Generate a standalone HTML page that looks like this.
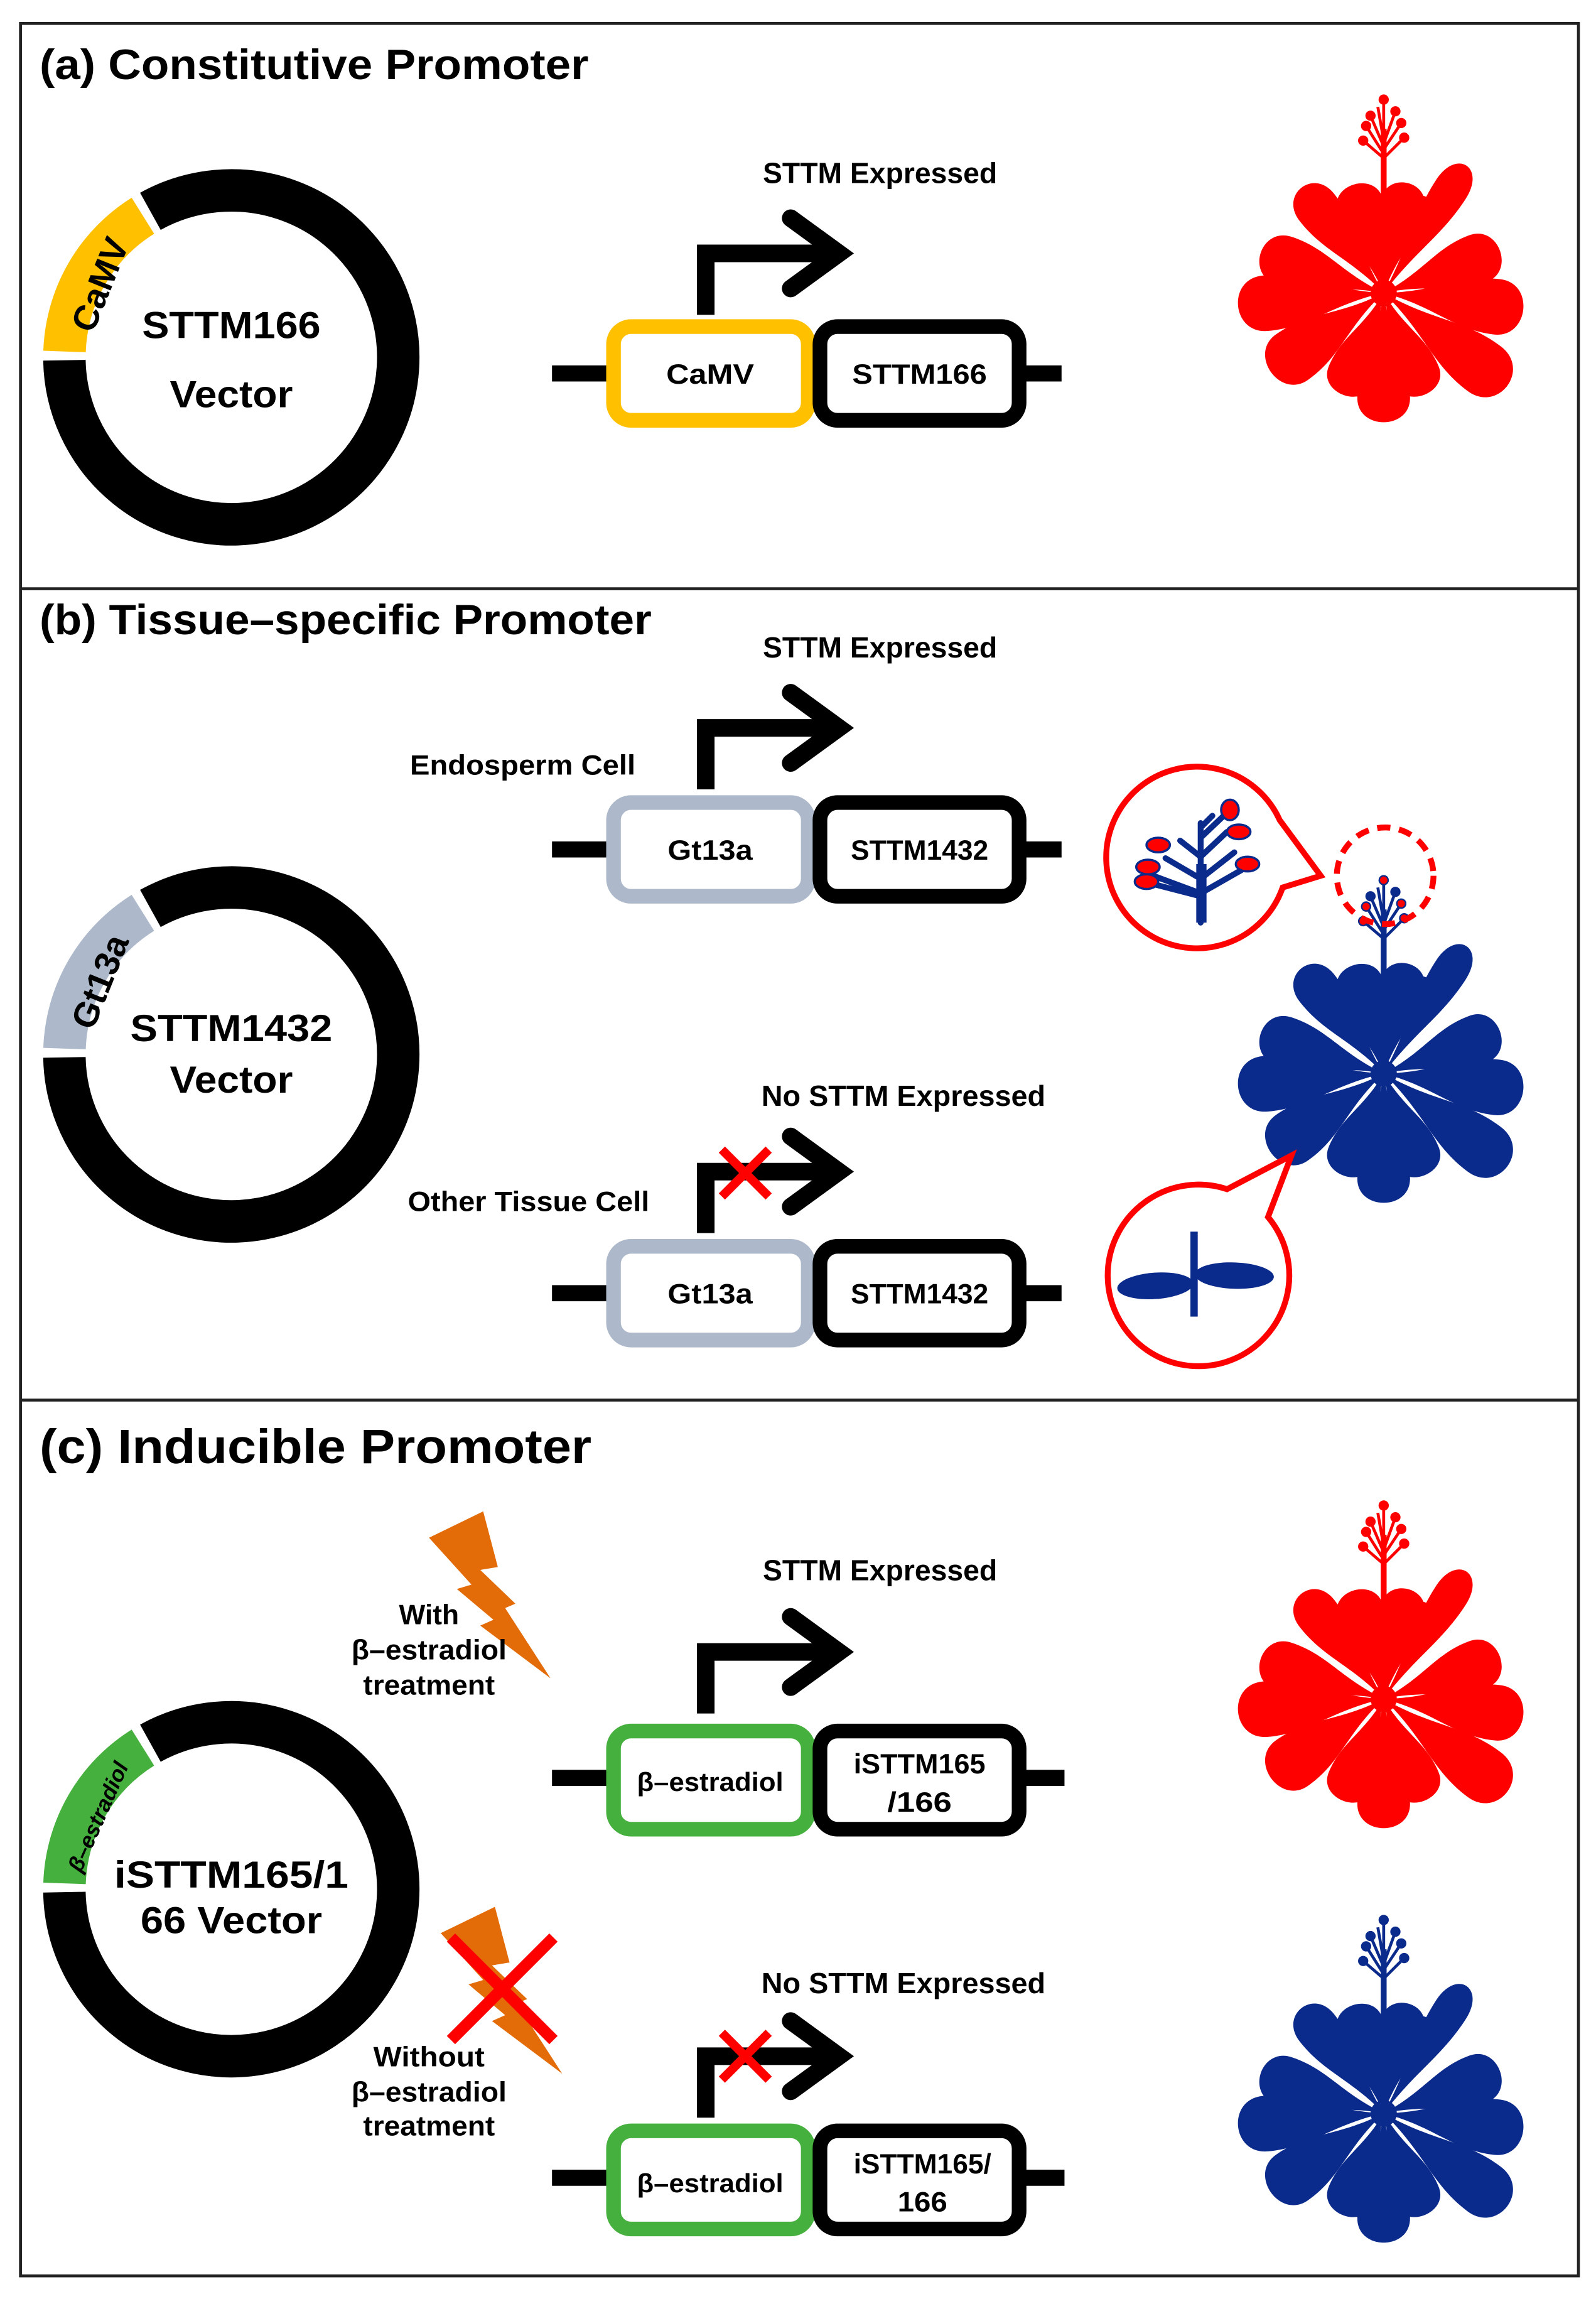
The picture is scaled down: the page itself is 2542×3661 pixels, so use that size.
<!DOCTYPE html>
<html><head><meta charset="utf-8"><style>
html,body{margin:0;padding:0;background:#fff;}
svg{display:block;}
text{font-family:"Liberation Sans",sans-serif;font-weight:bold;fill:#000;}
</style></head><body>
<svg width="2542" height="3661" viewBox="0 0 1090 1569.8" preserveAspectRatio="none" xmlns="http://www.w3.org/2000/svg">
<defs>
<path id="leaf" stroke="none" d="M0,0 C-0.25,-0.35 -1,-0.5 -1,-0.78 C-1,-1.02 1,-1.02 1,-0.78 C1,-0.5 0.25,-0.35 0,0Z"/>
<g id="plant">
    <use href="#leaf" transform="rotate(-72) scale(17,92)"/>
    <use href="#leaf" transform="rotate(70) scale(17,88)"/>
    <use href="#leaf" transform="rotate(-95) scale(19,104)"/>
    <use href="#leaf" transform="rotate(97) scale(19,100)"/>
    <use href="#leaf" transform="rotate(-125) scale(19,98)"/>
    <use href="#leaf" transform="rotate(127) scale(19,110)"/>
    <use href="#leaf" transform="rotate(180) scale(18,92)"/>
    <use href="#leaf" transform="rotate(158) scale(16,78)"/>
    <use href="#leaf" transform="rotate(-158) scale(16,78)"/>
    <use href="#leaf" transform="rotate(-38) scale(15,95)"/>
    <use href="#leaf" transform="rotate(-15) scale(16,80)"/>
    <use href="#leaf" transform="rotate(12) scale(15,80)"/>
    <use href="#leaf" transform="rotate(33) scale(12,108)"/>
    <circle cx="0" cy="0" r="9" stroke="none"/>
    <rect x="-2" y="-112" width="4" height="112" stroke="none"/>
    <ellipse cx="-17" cy="-56" rx="17" ry="6" stroke="none" transform="rotate(-15 -17 -56)"/>
    <ellipse cx="19" cy="-62" rx="17" ry="6" stroke="none" transform="rotate(8 19 -62)"/>
    <g stroke-width="2" fill="none">
      <path d="M0,-95 L-12,-114 M0,-100 L-9,-121 M0,-104 L-4,-127 M0,-108 L0,-132 M0,-102 L8,-124 M0,-98 L12,-116 M0,-92 L-14,-104 M0,-92 L14,-106"/>
    </g>
    <circle cx="-12" cy="-114" r="3"/><circle cx="-9" cy="-121" r="3"/><circle cx="0" cy="-132" r="3"/>
    <circle cx="8" cy="-124" r="3"/><circle cx="12" cy="-116" r="3"/><circle cx="-14" cy="-104" r="3"/><circle cx="14" cy="-106" r="3"/>
</g>
<g id="ring">
  <path d="M102.7,144.3 A114,114 0 1 1 44,246" fill="none" stroke="#000" stroke-width="29"/>
</g>
<g id="arrow">
  <path d="M482,215 V173 H566" fill="none" stroke="#000" stroke-width="12"/>
  <path d="M540,149 L573,173 L540,197" fill="none" stroke="#000" stroke-width="12" stroke-linecap="round" stroke-linejoin="miter"/>
</g>
<g id="xmark">
  <path d="M-16,-16 L16,16 M16,-16 L-16,16" stroke="#ff0000" stroke-width="6"/>
</g>
<polygon id="bolt" points="293,1050 330,1032 340,1070 328,1072 352,1095 345,1098 376,1146 328,1110 337,1106 312,1085 322,1082"/>
</defs>

<rect x="0" y="0" width="1090" height="1570" fill="#fff"/>
<rect x="14" y="16" width="1064" height="1538" fill="none" stroke="#222" stroke-width="2"/>
<line x1="14" y1="402" x2="1078" y2="402" stroke="#222" stroke-width="2"/>
<line x1="14" y1="956" x2="1078" y2="956" stroke="#222" stroke-width="2"/>

<!-- Panel A -->
<text x="27" y="54" font-size="29" textLength="375" lengthAdjust="spacingAndGlyphs">(a) Constitutive Promoter</text>
<use href="#ring"/>
<path d="M44.07,240 A114,114 0 0 1 97.6,147.3" fill="none" stroke="#ffc000" stroke-width="29"/>
<text x="0" y="0" font-size="24" transform="translate(70,195) rotate(-68)" text-anchor="middle" dominant-baseline="middle">CaMV</text>
<text x="158" y="231" font-size="26" text-anchor="middle" textLength="122" lengthAdjust="spacingAndGlyphs">STTM166</text>
<text x="158" y="278" font-size="26" text-anchor="middle" textLength="84" lengthAdjust="spacingAndGlyphs">Vector</text>
<text x="601" y="125" font-size="20" text-anchor="middle" textLength="160" lengthAdjust="spacingAndGlyphs">STTM Expressed</text>
<use href="#arrow"/>
<line x1="377" y1="255" x2="725" y2="255" stroke="#000" stroke-width="11"/>
<rect x="419" y="223" width="133" height="64" rx="12" fill="#fff" stroke="#ffc000" stroke-width="10"/>
<rect x="560" y="223" width="136" height="64" rx="12" fill="#fff" stroke="#000" stroke-width="10"/>
<text x="485" y="262" font-size="19" text-anchor="middle" textLength="60" lengthAdjust="spacingAndGlyphs">CaMV</text>
<text x="628" y="262" font-size="19" text-anchor="middle" textLength="92" lengthAdjust="spacingAndGlyphs">STTM166</text>
<g fill="#ff0000" stroke="#ff0000"><use href="#plant" transform="translate(945,200)"/></g>

<!-- Panel B -->
<text x="27" y="433" font-size="29" textLength="418" lengthAdjust="spacingAndGlyphs">(b) Tissue–specific Promoter</text>
<text x="601" y="449" font-size="20" text-anchor="middle" textLength="160" lengthAdjust="spacingAndGlyphs">STTM Expressed</text>
<use href="#arrow" transform="translate(0,324)"/>
<text x="357" y="529" font-size="19" text-anchor="middle" textLength="154" lengthAdjust="spacingAndGlyphs">Endosperm Cell</text>
<line x1="377" y1="580" x2="725" y2="580" stroke="#000" stroke-width="11"/>
<rect x="419" y="548" width="133" height="64" rx="12" fill="#fff" stroke="#adb9ca" stroke-width="10"/>
<rect x="560" y="548" width="136" height="64" rx="12" fill="#fff" stroke="#000" stroke-width="10"/>
<text x="485" y="587" font-size="19" text-anchor="middle" textLength="58" lengthAdjust="spacingAndGlyphs">Gt13a</text>
<text x="628" y="587" font-size="19" text-anchor="middle" textLength="94" lengthAdjust="spacingAndGlyphs">STTM1432</text>

<g transform="translate(0,476)"><use href="#ring"/>
<path d="M44.07,240 A114,114 0 0 1 97.6,147.3" fill="none" stroke="#adb9ca" stroke-width="29"/>
<text x="0" y="0" font-size="24" transform="translate(70,195) rotate(-68)" text-anchor="middle" dominant-baseline="middle">Gt13a</text>
<text x="158" y="235" font-size="26" text-anchor="middle" textLength="138" lengthAdjust="spacingAndGlyphs">STTM1432</text>
<text x="158" y="270" font-size="26" text-anchor="middle" textLength="84" lengthAdjust="spacingAndGlyphs">Vector</text>
</g>

<text x="617" y="755" font-size="20" text-anchor="middle" textLength="194" lengthAdjust="spacingAndGlyphs">No STTM Expressed</text>
<use href="#arrow" transform="translate(0,627)"/>
<use href="#xmark" transform="translate(509,801)"/>
<text x="361" y="827" font-size="19" text-anchor="middle" textLength="165" lengthAdjust="spacingAndGlyphs">Other Tissue Cell</text>
<line x1="377" y1="883" x2="725" y2="883" stroke="#000" stroke-width="11"/>
<rect x="419" y="851" width="133" height="64" rx="12" fill="#fff" stroke="#adb9ca" stroke-width="10"/>
<rect x="560" y="851" width="136" height="64" rx="12" fill="#fff" stroke="#000" stroke-width="10"/>
<text x="485" y="890" font-size="19" text-anchor="middle" textLength="58" lengthAdjust="spacingAndGlyphs">Gt13a</text>
<text x="628" y="890" font-size="19" text-anchor="middle" textLength="94" lengthAdjust="spacingAndGlyphs">STTM1432</text>

<g fill="#0a2a8c" stroke="#0a2a8c"><use href="#plant" transform="translate(945,733)"/></g>
<g stroke="#0a2a8c" fill="#0a2a8c" transform="translate(945,733)">
  <circle cx="-12" cy="-114" r="3" fill="#ff0000"/><circle cx="0" cy="-132" r="3" fill="#ff0000"/><circle cx="12" cy="-116" r="3" fill="#ff0000"/><circle cx="-14" cy="-104" r="3" fill="#ff0000"/><circle cx="14" cy="-106" r="3" fill="#ff0000"/>
</g>
<circle cx="946" cy="598" r="33" fill="none" stroke="#ff0000" stroke-width="4" stroke-dasharray="9 6"/>

<path d="M876,606 A62,62 0 1 1 874,560 L902,598 Z" fill="#fff" stroke="#ff0000" stroke-width="4" stroke-linejoin="miter"/>
<g stroke="#0a2a8c" stroke-width="4" fill="none" stroke-linecap="round">
  <path d="M820,630 V562 M820,610 L785,597 M820,612 L785,603 M820,600 L796,586 M820,585 L806,574 M820,565 L828,557 M820,610 L848,594 M820,600 L843,582 M820,585 L838,568 M820,572 L840,553"/>
</g>
<rect x="817" y="590" width="7" height="40" fill="#0a2a8c"/>
<g fill="#ff0000" stroke="#0a2a8c" stroke-width="1.5">
  <ellipse cx="784" cy="592" rx="8" ry="5"/><ellipse cx="783" cy="602" rx="8" ry="5"/><ellipse cx="791" cy="577" rx="8" ry="5"/>
  <ellipse cx="852" cy="590" rx="8" ry="5"/><ellipse cx="846" cy="568" rx="8" ry="5"/><ellipse cx="840" cy="553" rx="6" ry="7"/>
</g>

<path d="M866,831 A62,62 0 1 1 838,812 L882,789 Z" fill="#fff" stroke="#ff0000" stroke-width="4" stroke-linejoin="miter"/>
<rect x="813" y="841" width="5" height="58" fill="#0a2a8c"/>
<ellipse cx="789" cy="878" rx="26" ry="9" fill="#0a2a8c" transform="rotate(-4 789 878)"/>
<ellipse cx="843" cy="871" rx="27" ry="9" fill="#0a2a8c" transform="rotate(2 843 871)"/>

<!-- Panel C -->
<text x="27" y="999" font-size="33" textLength="377" lengthAdjust="spacingAndGlyphs">(c) Inducible Promoter</text>
<use href="#bolt" fill="#e36c09"/>
<text x="293" y="1109" font-size="19" text-anchor="middle">With</text>
<text x="293" y="1133" font-size="19" text-anchor="middle" textLength="106" lengthAdjust="spacingAndGlyphs">β–estradiol</text>
<text x="293" y="1157" font-size="19" text-anchor="middle" textLength="90" lengthAdjust="spacingAndGlyphs">treatment</text>
<text x="601" y="1079" font-size="20" text-anchor="middle" textLength="160" lengthAdjust="spacingAndGlyphs">STTM Expressed</text>
<use href="#arrow" transform="translate(0,955)"/>
<line x1="377" y1="1214" x2="727" y2="1214" stroke="#000" stroke-width="11"/>
<rect x="419" y="1182" width="133" height="67" rx="12" fill="#fff" stroke="#46b03e" stroke-width="10"/>
<rect x="560" y="1182" width="136" height="67" rx="12" fill="#fff" stroke="#000" stroke-width="10"/>
<text x="485" y="1223" font-size="18" text-anchor="middle" textLength="100" lengthAdjust="spacingAndGlyphs">β–estradiol</text>
<text x="628" y="1211" font-size="19" text-anchor="middle" textLength="90" lengthAdjust="spacingAndGlyphs">iSTTM165</text>
<text x="628" y="1237" font-size="19" text-anchor="middle" textLength="44" lengthAdjust="spacingAndGlyphs">/166</text>
<g fill="#ff0000" stroke="#ff0000"><use href="#plant" transform="translate(945,1160)"/></g>

<g transform="translate(0,1046)"><use href="#ring"/>
<path d="M44.07,240 A114,114 0 0 1 97.6,147.3" fill="none" stroke="#46b03e" stroke-width="29"/>
<text x="0" y="0" font-size="15" font-style="italic" transform="translate(68,195) rotate(-66)" text-anchor="middle" dominant-baseline="middle">β–estradiol</text>
<text x="158" y="243" font-size="26" text-anchor="middle" textLength="160" lengthAdjust="spacingAndGlyphs">iSTTM165/1</text>
<text x="158" y="274" font-size="26" text-anchor="middle" textLength="124" lengthAdjust="spacingAndGlyphs">66 Vector</text>
</g>

<use href="#bolt" fill="#e36c09" transform="translate(8,270)"/>
<path d="M308,1323 L378,1393 M378,1323 L308,1393" stroke="#ff0000" stroke-width="8"/>
<text x="293" y="1411" font-size="19" text-anchor="middle" textLength="76" lengthAdjust="spacingAndGlyphs">Without</text>
<text x="293" y="1435" font-size="19" text-anchor="middle" textLength="106" lengthAdjust="spacingAndGlyphs">β–estradiol</text>
<text x="293" y="1458" font-size="19" text-anchor="middle" textLength="90" lengthAdjust="spacingAndGlyphs">treatment</text>
<text x="617" y="1361" font-size="20" text-anchor="middle" textLength="194" lengthAdjust="spacingAndGlyphs">No STTM Expressed</text>
<use href="#arrow" transform="translate(0,1231)"/>
<use href="#xmark" transform="translate(509,1404)"/>
<line x1="377" y1="1487" x2="727" y2="1487" stroke="#000" stroke-width="11"/>
<rect x="419" y="1455" width="133" height="67" rx="12" fill="#fff" stroke="#46b03e" stroke-width="10"/>
<rect x="560" y="1455" width="136" height="67" rx="12" fill="#fff" stroke="#000" stroke-width="10"/>
<text x="485" y="1497" font-size="18" text-anchor="middle" textLength="100" lengthAdjust="spacingAndGlyphs">β–estradiol</text>
<text x="630" y="1484" font-size="19" text-anchor="middle" textLength="94" lengthAdjust="spacingAndGlyphs">iSTTM165/</text>
<text x="630" y="1510" font-size="19" text-anchor="middle" textLength="34" lengthAdjust="spacingAndGlyphs">166</text>
<g fill="#0a2a8c" stroke="#0a2a8c"><use href="#plant" transform="translate(945,1443)"/></g>
</svg>
</body></html>
